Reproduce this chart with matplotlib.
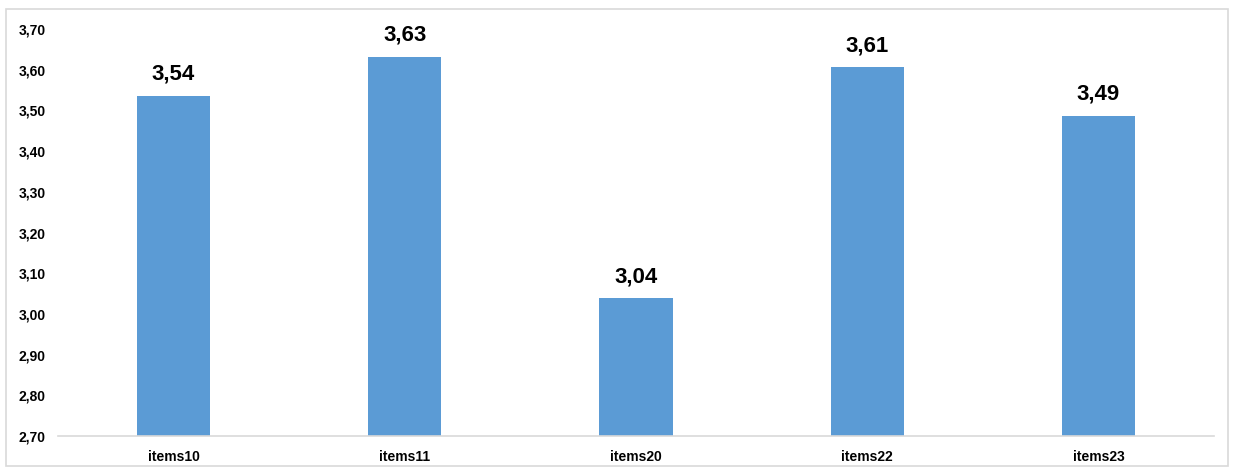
"""Mean score per item, Excel-style column chart."""

import matplotlib

matplotlib.use("Agg")
import matplotlib.pyplot as plt
from matplotlib.patches import Rectangle
import matplotlib.ticker as mticker

ITEMS = ["items10", "items11", "items20", "items22", "items23"]
MEANS = [3.536, 3.632, 3.038, 3.606, 3.487]
Y_TICKS = [2.70, 2.80, 2.90, 3.00, 3.10, 3.20, 3.30, 3.40, 3.50, 3.60, 3.70]

BAR_COLOR = "#5B9BD5"
FRAME_COLOR = "#D9D9D9"


def _comma(value: float, _pos=None) -> str:
    return f"{value:.2f}".replace(".", ",")


plt.rcParams.update({
    "font.family": ["Liberation Sans", "DejaVu Sans"],
    "font.weight": "bold",
})

fig = plt.figure(figsize=(12.33, 4.68), dpi=100)
ax = fig.add_axes([0.047, 0.0684, 0.9376, 0.8696])

x_pos = list(range(len(ITEMS)))
ax.bar(x_pos, MEANS, width=0.316, color=BAR_COLOR, bottom=0, zorder=2)

for x, v in zip(x_pos, MEANS):
    ax.annotate(_comma(v), (x, v), xytext=(0, 8), textcoords="offset points",
                ha="center", va="bottom", fontsize=16, fontweight="bold")

ax.set_xlim(-0.5, len(ITEMS) - 0.5)
ax.set_ylim(Y_TICKS[0], Y_TICKS[-1])
ax.set_yticks(Y_TICKS)
ax.yaxis.set_major_formatter(mticker.FuncFormatter(_comma))
ax.set_xticks(x_pos)
ax.set_xticklabels(ITEMS)
ax.tick_params(axis="y", length=0, pad=9, labelsize=10)
ax.tick_params(axis="x", length=0, pad=10, labelsize=10)

for side in ("top", "right", "left"):
    ax.spines[side].set_visible(False)
ax.spines["bottom"].set_color(FRAME_COLOR)
ax.spines["bottom"].set_linewidth(1.2)

# outer chart frame
fig.patches.append(Rectangle((6 / 1233, 2 / 468), 1222 / 1233, 457 / 468,
                             transform=fig.transFigure, fill=False,
                             edgecolor=FRAME_COLOR, linewidth=1.2))

fig.savefig("out.png", dpi=100)
